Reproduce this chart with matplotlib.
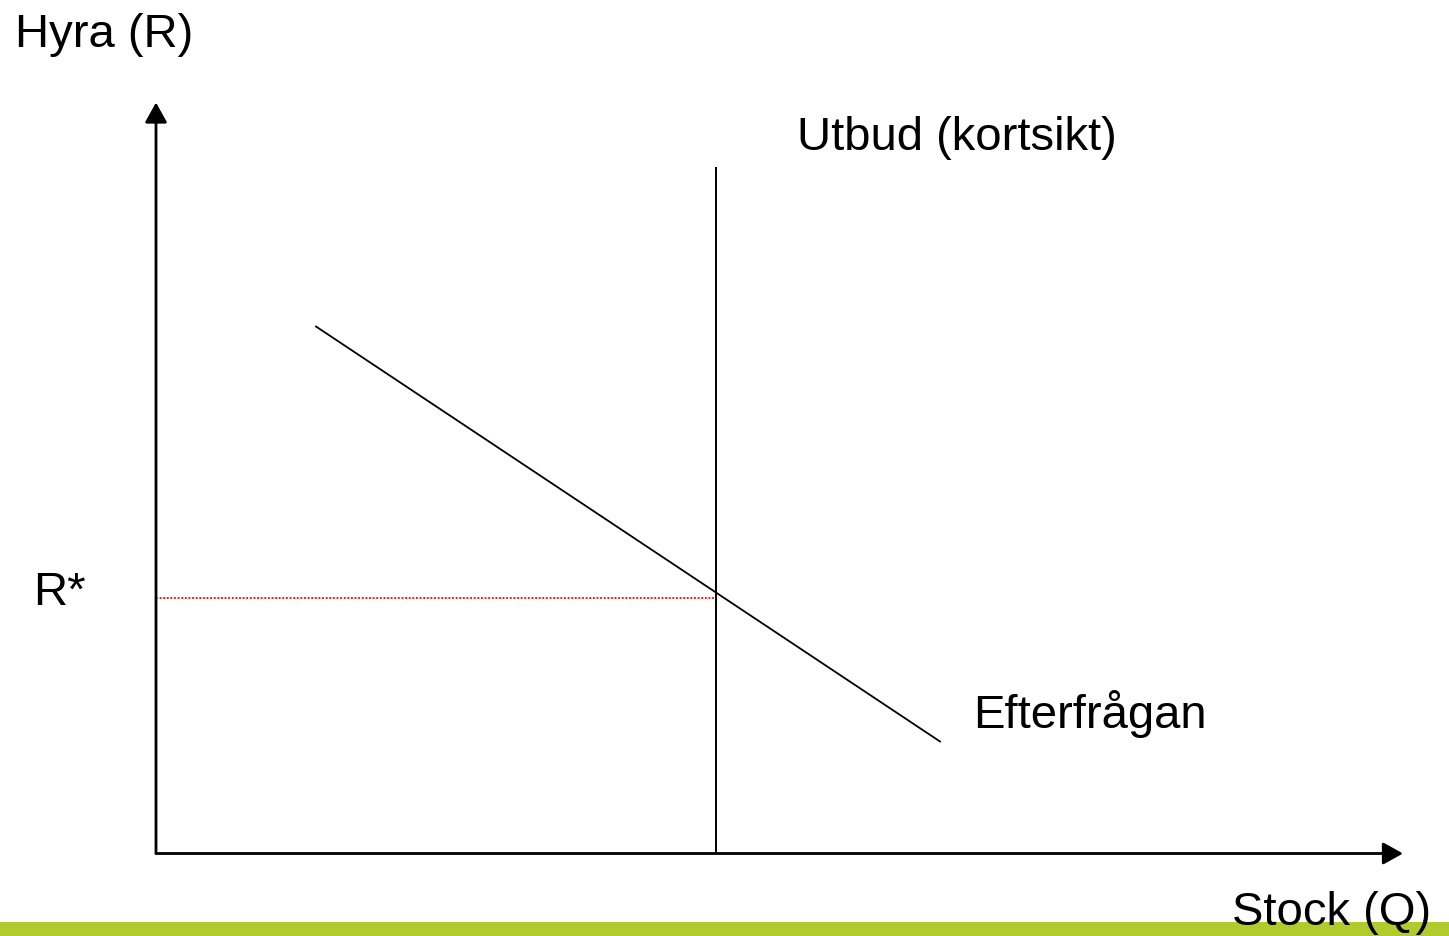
import matplotlib
matplotlib.use("Agg")
import matplotlib.pyplot as plt
from matplotlib.patches import Rectangle

plt.rcParams['font.family'] = ['Liberation Sans', 'DejaVu Sans']

# Data (diagram units, origin at axes corner)
axis_x_end = 1247
axis_y_end = 751
supply_q = [560, 560]
supply_r = [0, 687]
demand_q = [160, 784]
demand_r = [527, 112]
r_star = 256
labels = {
    "y": "Hyra (R)",
    "x": "Stock (Q)",
    "supply": "Utbud (kortsikt)",
    "demand": "Efterfrågan",
    "rstar": "R*",
}

W, H = 1449, 937
fig = plt.figure(figsize=(W / 100, H / 100), dpi=100)
ax = fig.add_axes([0, 0, 1, 1])
ox, oy = 156, 854.5
ax.set_xlim(-ox, W - ox)
ax.set_ylim(-(H - oy), oy)
ax.axis('off')

# green bar at bottom (drawn beneath text)
ax.add_patch(Rectangle((0, 0), 1, 14 / H, transform=ax.transAxes,
                       facecolor='#B2CB2C', edgecolor='none', zorder=0))

arrow_kw = dict(arrowstyle='-|>,head_length=0.45,head_width=0.25',
                mutation_scale=27, lw=2.0, color='black', shrinkA=0, shrinkB=0)
ax.annotate('', xy=(0, axis_y_end), xytext=(0, 0), arrowprops=arrow_kw)
ax.annotate('', xy=(axis_x_end, 0), xytext=(0, 0), arrowprops=arrow_kw)

ax.plot(supply_q, supply_r, color='black', lw=1.4, solid_capstyle='butt')
ax.plot(demand_q, demand_r, color='black', lw=1.3)
ax.plot([0, supply_q[0]], [r_star, r_star], color='#FF0000', lw=1.3,
        linestyle=(0, (1, 1)))

fs = 34
dy = 3
ax.text(15 - ox, oy - 32 - dy, labels["y"], fontsize=fs, ha='left', va='center')
ax.text(797 - ox, oy - 135 - dy, labels["supply"], fontsize=fs, ha='left', va='center')
ax.text(33 - ox, oy - 590 - dy, labels["rstar"], fontsize=fs, ha='left', va='center')
ax.text(973 - ox, oy - 711 - dy, labels["demand"], fontsize=fs, ha='left', va='center')
ax.text(1232 - ox, oy - 910 - dy, labels["x"], fontsize=fs, ha='left', va='center', zorder=5)

fig.savefig('out.png', dpi=100)
